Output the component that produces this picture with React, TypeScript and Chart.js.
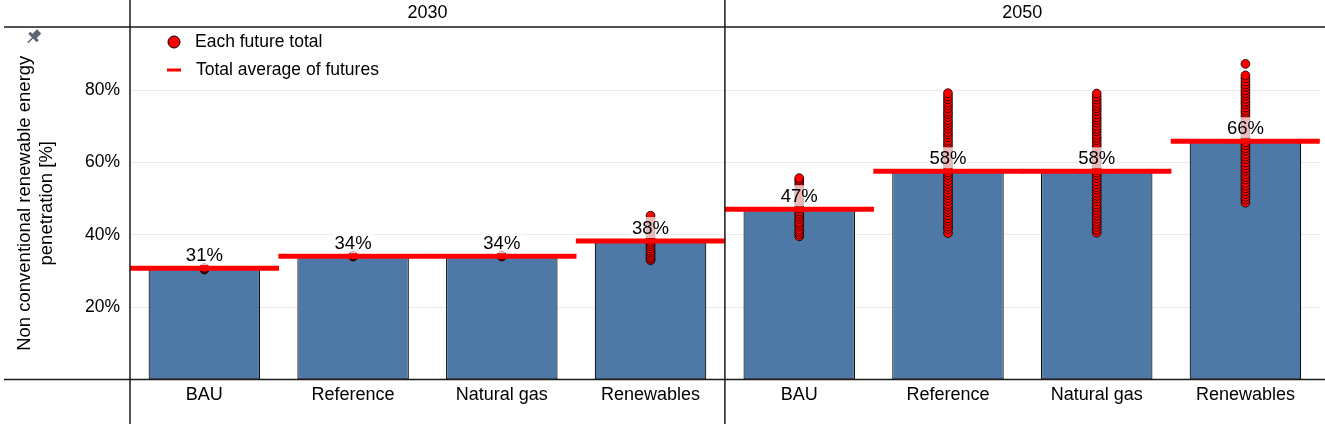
import { useEffect, useRef } from "react";
import { Chart, registerables } from "chart.js";

Chart.register(...registerables);

const years = ["2030", "2050"];
const scenarios = ["BAU", "Reference", "Natural gas", "Renewables"];
const averages2030 = [30.8, 34.1, 34.1, 38.3];
const averages2050 = [47.1, 57.6, 57.6, 65.9];
const valueLabels2030 = ["31%", "34%", "34%", "38%"];
const valueLabels2050 = ["47%", "58%", "58%", "66%"];
const yTicks = [20, 40, 60, 80];
const yMax = 97.5;

const futuresBAU2030 = [30.4, 30.6, 30.7, 30.9];
const futuresReference2030 = [34.0, 34.1, 34.3];
const futuresNaturalGas2030 = [34.0, 34.2, 34.3];
const futuresRenewables2030 = [33.0, 33.4, 33.9, 34.5, 35.1, 35.6, 36.2, 36.9, 37.5, 38.1, 38.8, 39.4, 40.1, 40.9, 41.6, 42.4, 43.1, 43.8, 44.4, 45.3];
const futuresBAU2050 = [39.6, 40.2, 40.9, 41.5, 42.3, 43.0, 43.6, 44.4, 45.1, 45.8, 46.5, 47.3, 48.0, 48.8, 49.5, 50.2, 51.0, 51.7, 52.5, 53.2, 53.9, 54.6, 55.2, 55.7];
const futuresReference2050 = [40.5, 41.6, 42.3, 43.1, 43.9, 44.6, 45.4, 46.3, 47.0, 47.8, 48.5, 49.4, 50.2, 51.0, 51.7, 52.6, 53.3, 54.1, 54.9, 55.8, 56.6, 57.3, 58.1, 59.0, 59.8, 60.5, 61.4, 62.2, 63.0, 63.7, 64.6, 65.4, 66.1, 67.0, 67.8, 68.5, 69.4, 70.2, 71.0, 71.7, 72.6, 73.4, 74.1, 75.0, 75.8, 76.6, 77.5, 78.3, 79.2];
const futuresNaturalGas2050 = [40.6, 41.4, 42.2, 43.0, 43.7, 44.5, 45.3, 46.1, 46.9, 47.6, 48.4, 49.3, 50.1, 50.8, 51.6, 52.5, 53.2, 54.0, 54.8, 55.7, 56.5, 57.2, 58.0, 58.9, 59.7, 60.4, 61.3, 62.1, 62.9, 63.8, 64.5, 65.3, 66.2, 66.9, 67.7, 68.6, 69.3, 70.1, 71.0, 71.8, 72.5, 73.3, 74.2, 75.0, 75.7, 76.5, 77.4, 78.2, 79.1];
const futuresRenewables2050 = [48.9, 49.8, 50.5, 51.3, 52.1, 52.9, 53.6, 54.4, 55.3, 56.0, 56.8, 57.7, 58.4, 59.2, 60.0, 60.9, 61.6, 62.4, 63.3, 64.0, 64.8, 65.6, 66.5, 67.2, 68.0, 68.9, 69.6, 70.4, 71.3, 72.0, 72.8, 73.7, 74.4, 75.2, 76.1, 76.8, 77.6, 78.5, 79.2, 80.0, 80.9, 81.6, 82.4, 83.3, 84.1, 87.3];

const yTitleLines = ["Non conventional renewable energy", "penetration [%]"];
const legendDots = "Each future total";
const legendLine = "Total average of futures";

const FONT = "'Liberation Sans', Arial, sans-serif";

export default function App() {
  const ref = useRef<HTMLCanvasElement | null>(null);

  useEffect(() => {
    const canvas = ref.current;
    if (!canvas) return;

    const keys: string[] = [];
    years.forEach((y) => scenarios.forEach((s) => keys.push(`${s} ${y}`)));
    const averages = [...averages2030, ...averages2050];
    const valueLabels = [...valueLabels2030, ...valueLabels2050];
    const futures = [
      futuresBAU2030, futuresReference2030, futuresNaturalGas2030, futuresRenewables2030,
      futuresBAU2050, futuresReference2050, futuresNaturalGas2050, futuresRenewables2050,
    ];
    const dotData: { x: string; y: number }[] = [];
    futures.forEach((arr, i) => arr.forEach((v) => dotData.push({ x: keys[i], y: v })));

    const overlay = {
      id: "overlay",
      afterDatasetsDraw(chart: any) {
        const ctx = chart.ctx;
        const xs = chart.scales.x;
        const ys = chart.scales.y;
        ctx.save();
        ctx.font = `18.5px ${FONT}`;
        ctx.textAlign = "center";
        ctx.textBaseline = "middle";
        averages.forEach((a, i) => {
          const cx = xs.getPixelForValue(i);
          const ly = ys.getPixelForValue(a);
          const w = ctx.measureText(valueLabels[i]).width;
          ctx.fillStyle = "rgba(255,255,255,0.72)";
          ctx.fillRect(cx - w / 2 - 2, ly - 24, w + 4, 21);
          ctx.fillStyle = "#000";
          ctx.fillText(valueLabels[i], cx, ly - 12.5);
        });
        ctx.restore();
      },
      afterDraw(chart: any) {
        const ctx = chart.ctx;
        const area = chart.chartArea;
        const xs = chart.scales.x;
        const W = chart.width;
        const H = chart.height;
        const divider = (xs.getPixelForValue(3) + xs.getPixelForValue(4)) / 2;
        ctx.save();
        ctx.strokeStyle = "#1a1a1a";
        ctx.lineWidth = 1.5;
        ctx.beginPath();
        ctx.moveTo(4, area.top);
        ctx.lineTo(W, area.top);
        ctx.moveTo(4, area.bottom);
        ctx.lineTo(W, area.bottom);
        ctx.moveTo(area.left, 0);
        ctx.lineTo(area.left, H - 4);
        ctx.moveTo(divider, 0);
        ctx.lineTo(divider, H - 4);
        ctx.stroke();

        // headers
        ctx.fillStyle = "#000";
        ctx.font = `18px ${FONT}`;
        ctx.textAlign = "center";
        ctx.textBaseline = "middle";
        ctx.fillText(years[0], (area.left + divider) / 2, 13);
        ctx.fillText(years[1], (divider + area.right) / 2, 13);

        // legend
        ctx.font = `17.5px ${FONT}`;
        ctx.textAlign = "left";
        ctx.beginPath();
        ctx.arc(174, 42, 6, 0, Math.PI * 2);
        ctx.fillStyle = "#ff0000";
        ctx.fill();
        ctx.lineWidth = 1;
        ctx.strokeStyle = "#000";
        ctx.stroke();
        ctx.fillStyle = "#ff0000";
        ctx.fillRect(167, 68.5, 14, 3);
        ctx.fillStyle = "#000";
        ctx.fillText(legendDots, 195, 42);
        ctx.fillText(legendLine, 196, 70);

        // y title
        ctx.save();
        ctx.font = `18.5px ${FONT}`;
        ctx.translate(25, (area.top + area.bottom) / 2);
        ctx.rotate(-Math.PI / 2);
        ctx.textAlign = "center";
        ctx.fillText(yTitleLines[0], 0, 0);
        ctx.fillText(yTitleLines[1], 0, 22);
        ctx.restore();

        // pin icon
        ctx.save();
        ctx.translate(33.5, 37);
        ctx.rotate(Math.PI / 4);
        ctx.fillStyle = "#5f6673";
        ctx.fillRect(-3, -8, 6, 7);
        ctx.fillRect(-6, -1.5, 12, 3);
        ctx.strokeStyle = "#5f6673";
        ctx.lineWidth = 1.5;
        ctx.beginPath();
        ctx.moveTo(0, 1);
        ctx.lineTo(0, 8);
        ctx.stroke();
        ctx.restore();

        ctx.restore();
      },
    };

    const chart = new Chart(canvas, {
      type: "bar",
      data: {
        labels: keys,
        datasets: [
          {
            type: "bar",
            data: averages.map((a) => [a - 0.6, a + 0.6]) as any,
            backgroundColor: "#ff0000",
            borderWidth: 0,
            barPercentage: 1,
            categoryPercentage: 1,
            grouped: false,
            order: 1,
          } as any,
          {
            type: "line",
            data: dotData as any,
            showLine: false,
            pointRadius: 4.4,
            pointBackgroundColor: "#ff0000",
            pointBorderColor: "#000",
            pointBorderWidth: 0.8,
            order: 2,
          } as any,
          {
            type: "bar",
            data: averages,
            backgroundColor: "#4e79a7",
            borderColor: "#111",
            borderWidth: 1.2,
            borderSkipped: false,
            barPercentage: 0.75,
            categoryPercentage: 1,
            grouped: false,
            order: 3,
          } as any,
        ],
      },
      options: {
        responsive: false,
        animation: false,
        events: [],
        layout: { padding: { top: 27, right: 0, left: 0, bottom: 0 } },
        plugins: { legend: { display: false }, tooltip: { enabled: false } },
        scales: {
          x: {
            type: "category",
            offset: true,
            grid: { display: false, drawTicks: false },
            border: { display: false },
            ticks: {
              padding: 5,
              color: "#000",
              font: { family: FONT, size: 18 },
              maxRotation: 0,
              autoSkip: false,
              callback: (_v: any, i: number) => scenarios[i % scenarios.length],
            },
            afterFit: (s: any) => {
              s.height = 48.5;
            },
          },
          y: {
            min: 0,
            max: yMax,
            grid: { color: "#ebebeb", lineWidth: 1, drawTicks: false },
            border: { display: false },
            ticks: {
              padding: 10,
              color: "#000",
              font: { family: FONT, size: 17.5 },
              callback: (v: any) => `${v}%`,
            },
            afterBuildTicks: (s: any) => {
              s.ticks = yTicks.map((v) => ({ value: v }));
            },
            afterFit: (s: any) => {
              s.width = 130;
            },
          },
        },
      },
      plugins: [overlay],
    } as any);

    return () => chart.destroy();
  }, []);

  return (
    <div style={{ position: "fixed", left: 0, top: 0, width: 1325, height: 428, background: "#fff" }}>
      <canvas ref={ref} width={1325} height={428} style={{ display: "block", width: 1325, height: 428 }} />
    </div>
  );
}
